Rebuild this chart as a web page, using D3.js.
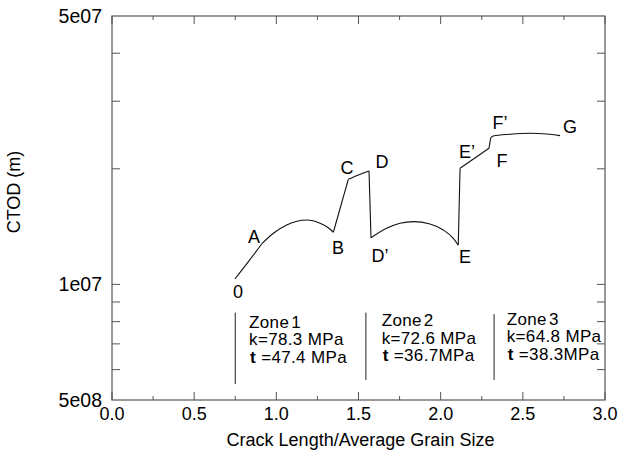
<!DOCTYPE html>
<html>
<head>
<meta charset="utf-8">
<script src="https://cdn.jsdelivr.net/npm/d3@7"></script>
<style>
  body { margin: 0; background: #fff; }
  svg { font-family: "Liberation Sans", Arial, sans-serif; }
  .frame line, .frame rect { stroke: #555; }
</style>
</head>
<body>
<svg id="chart"></svg>
<script>
// Curve pieces: [crack length / grain size, CTOD]
const seg0A  = [[0.748, 1.033e7], [0.830, 1.146e7], [0.911, 1.275e7]];
const arcAB  = [[0.911, 1.275e7], [0.982, 1.359e7], [1.063, 1.428e7], [1.185, 1.471e7], [1.266, 1.443e7], [1.316, 1.405e7], [1.347, 1.367e7]];
const segBC  = [[1.347, 1.367e7], [1.438, 1.878e7]];
const segCD  = [[1.438, 1.878e7], [1.499, 1.927e7], [1.564, 1.974e7]];
const segDD2 = [[1.564, 1.974e7], [1.576, 1.323e7]];
const arcDE  = [[1.576, 1.323e7], [1.671, 1.400e7], [1.753, 1.443e7], [1.834, 1.457e7], [1.935, 1.436e7], [2.016, 1.386e7], [2.077, 1.318e7], [2.107, 1.266e7]];
const segEE2 = [[2.107, 1.266e7], [2.118, 2.006e7]];
const segE2F = [[2.118, 2.006e7], [2.294, 2.262e7]];
const segFF2 = [[2.294, 2.262e7], [2.305, 2.411e7]];
const arcFG  = [[2.305, 2.411e7], [2.320, 2.435e7], [2.422, 2.460e7], [2.544, 2.475e7], [2.645, 2.465e7], [2.726, 2.440e7]];
const pieces = [seg0A, arcAB, segBC, segCD, segDD2, arcDE, segEE2, segE2F, segFF2, arcFG];

// Point labels [text, x, CTOD]
const pointLabels = [
  ["0", 0.767, 9.21e6], ["A", 0.864, 1.282e7], ["B", 1.375, 1.20e7],
  ["C", 1.430, 1.939e7], ["D", 1.643, 2.01e7], ["D\u2019", 1.631, 1.144e7],
  ["E", 2.148, 1.137e7], ["E\u2019", 2.160, 2.135e7], ["F", 2.373, 2.02e7],
  ["F\u2019", 2.361, 2.54e7], ["G", 2.787, 2.48e7]
];

// Zones
const zoneNames = ["1", "2", "3"];
const zoneK = ["78.3 MPa", "72.6 MPa", "64.8 MPa"];
const zoneT = ["47.4 MPa", "36.7MPa", "38.3MPa"];
const zoneTextX = [0.834, 1.641, 2.402];
const zoneTextY = [7.72e6, 7.79e6, 7.84e6];
const zoneLineX = [0.75, 1.545, 2.325];
const zoneLineTop = [8.44e6, 8.44e6, 8.37e6];
const zoneLineBottom = [5.5e6, 5.64e6, 5.64e6];

// Axes
const xDomain = [0, 3];
const yDomain = [5e6, 5e7];
const xMajor = [0, 0.5, 1.0, 1.5, 2.0, 2.5, 3.0];
const xMinor = [0.25, 0.75, 1.25, 1.75, 2.25, 2.75];
const yLabelled = [5e6, 1e7, 5e7];
const yLabelText = ["5e08", "1e07", "5e07"];
const yMinor = [6e6, 7e6, 8e6, 9e6, 1e7, 2e7, 3e7, 4e7];

const W = 619, H = 452;
const margin = { top: 16, right: 14, bottom: 52, left: 112 };
const w = W - margin.left - margin.right, h = H - margin.top - margin.bottom;

const svg = d3.select("#chart").attr("width", W).attr("height", H);
const g = svg.append("g").attr("transform", `translate(${margin.left},${margin.top})`);

const x = d3.scaleLinear().domain(xDomain).range([0, w]);
const y = d3.scaleLog().domain(yDomain).range([h, 0]);

// frame + inward ticks
const fr = g.append("g").attr("class", "frame");
fr.append("rect").attr("width", w).attr("height", h).attr("fill", "none").attr("stroke-width", 1.2);
xMajor.forEach(t => {
  fr.append("line").attr("x1", x(t)).attr("x2", x(t)).attr("y1", h).attr("y2", h - 8);
  fr.append("line").attr("x1", x(t)).attr("x2", x(t)).attr("y1", 0).attr("y2", 8);
});
xMinor.forEach(t => {
  fr.append("line").attr("x1", x(t)).attr("x2", x(t)).attr("y1", h).attr("y2", h - 4);
  fr.append("line").attr("x1", x(t)).attr("x2", x(t)).attr("y1", 0).attr("y2", 4);
});
yMinor.forEach(t => {
  fr.append("line").attr("x1", 0).attr("x2", 8).attr("y1", y(t)).attr("y2", y(t));
  fr.append("line").attr("x1", w).attr("x2", w - 8).attr("y1", y(t)).attr("y2", y(t));
});

// tick labels
g.selectAll(".xl").data(xMajor).join("text")
  .attr("x", d => x(d)).attr("y", h + 20).attr("text-anchor", "middle")
  .style("font-size", "18px").text(d3.format(".1f"));
g.selectAll(".yl").data(yLabelled).join("text")
  .attr("x", -10).attr("y", d => y(d) + 7).attr("text-anchor", "end")
  .style("font-size", "19.5px").text((d, i) => yLabelText[i]);

// axis titles
g.append("text").attr("x", w / 2 + 2).attr("y", h + 46).attr("text-anchor", "middle")
  .style("font-size", "18px").text("Crack Length/Average Grain Size");
g.append("text").attr("transform", `translate(${-92},${h / 2 - 16}) rotate(-90)`)
  .attr("text-anchor", "middle").style("font-size", "18px").text("CTOD (m)");

// curve
const line = d3.line().x(d => x(d[0])).y(d => y(d[1])).curve(d3.curveMonotoneX);
pieces.forEach(p => {
  g.append("path").datum(p).attr("d", line)
    .attr("fill", "none").attr("stroke", "#111").attr("stroke-width", 1.1);
});

// point labels
g.selectAll(".pl").data(pointLabels).join("text")
  .attr("x", d => x(d[1])).attr("y", d => y(d[2])).attr("text-anchor", "middle")
  .style("font-size", "18px").text(d => d[0]);

// zones
zoneLineX.forEach((zx, i) => {
  g.append("line").attr("x1", x(zx)).attr("x2", x(zx))
    .attr("y1", y(zoneLineTop[i])).attr("y2", y(zoneLineBottom[i]))
    .attr("stroke", "#222").attr("stroke-width", 1);
  const t = g.append("text").attr("x", x(zoneTextX[i])).attr("y", y(zoneTextY[i]))
    .style("font-size", "17px").style("letter-spacing", "0.35px");
  t.append("tspan").text("Zone");
  t.append("tspan").attr("dx", 2).text(zoneNames[i]);
  t.append("tspan").attr("x", x(zoneTextX[i])).attr("dy", 17.5).text("k=" + zoneK[i]);
  const t3 = t.append("tspan").attr("x", x(zoneTextX[i]) + 1).attr("dy", 17.5);
  t3.append("tspan").style("font-weight", "bold").text("t");
  t3.append("tspan").text(" =" + zoneT[i]);
});
</script>
</body>
</html>
